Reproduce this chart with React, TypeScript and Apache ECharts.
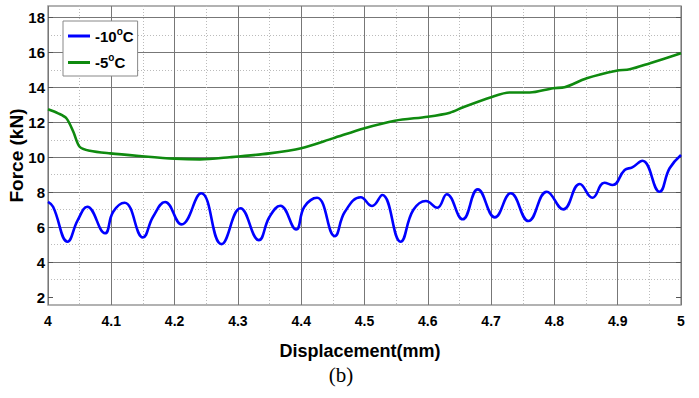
import React, { useEffect, useRef } from "react";
import * as echarts from "echarts";

const xMin = 4;
const xMax = 5;
const xStep = 0.1;
const yMin = 1.55;
const yMax = 18.65;
const yTickValues = [2, 4, 6, 8, 10, 12, 14, 16, 18];
const yMajorLines = [4, 6, 8, 10, 12, 14, 16, 18];
const yMinorLines = [3, 5, 7, 9, 11, 13, 15, 17];

const seriesNames = ["-10°C", "-5°C"];

const coldX = [
  4.0, 4.008, 4.031, 4.047, 4.062, 4.09, 4.103, 4.121, 4.15, 4.166, 4.185, 4.211,
  4.242, 4.274, 4.304, 4.333, 4.35, 4.367, 4.392, 4.405, 4.425, 4.453, 4.469,
  4.494, 4.512, 4.528, 4.557, 4.577, 4.597, 4.615, 4.63, 4.655, 4.679, 4.706,
  4.731, 4.759, 4.788, 4.814, 4.84, 4.86, 4.879, 4.892, 4.911, 4.923, 4.939,
  4.966, 4.982, 5.0,
];
const coldY = [
  7.45, 7.17, 5.17, 6.4, 7.17, 5.65, 6.88, 7.4, 5.42, 6.6, 7.44, 6.16,
  7.94, 5.03, 7.08, 5.26, 6.6, 7.23, 5.87, 7.17, 7.68, 5.49, 6.88,
  7.71, 7.21, 7.84, 5.17, 6.98, 7.5, 7.11, 7.88, 6.45, 8.16, 6.56,
  7.94, 6.35, 8.03, 7.02, 8.47, 7.68, 8.54, 8.41, 9.27, 9.42, 9.8,
  8.03, 9.37, 10.13,
];

const warmX = [
  4.0, 4.016, 4.029, 4.04, 4.05, 4.066, 4.098, 4.145, 4.2, 4.24, 4.287, 4.35,
  4.4, 4.45, 4.5, 4.548, 4.6, 4.635, 4.656, 4.7, 4.729, 4.761, 4.798, 4.816,
  4.851, 4.898, 4.919, 4.951, 5.0,
];
const warmY = [
  12.74, 12.51, 12.23, 11.46, 10.6, 10.37, 10.22, 10.07, 9.92, 9.88, 10.0, 10.22,
  10.51, 11.08, 11.66, 12.09, 12.32, 12.55, 12.86, 13.43, 13.7, 13.7, 13.95, 14.0,
  14.52, 14.95, 15.03, 15.38, 15.95,
];

const FONT = "'Liberation Sans', Arial, sans-serif";

function zip(xs: number[], ys: number[]) {
  return xs.map((x, i) => [x, ys[i]]);
}

export default function App() {
  const ref = useRef<HTMLDivElement>(null);
  useEffect(() => {
    if (!ref.current) return;
    const chart = echarts.init(ref.current, null, { renderer: "svg" });
    const hiddenAxisBase = {
      type: "value",
      min: yMin,
      max: yMax,
      axisLine: { show: false },
      axisLabel: { show: false },
    };
    chart.setOption({
      animation: false,
      backgroundColor: "#fff",
      grid: {
        left: 48,
        right: 18,
        top: 6,
        bottom: 93,
        show: true,
        borderColor: "#999",
        borderWidth: 1.5,
      },
      legend: {
        orient: "vertical",
        left: 63,
        top: 21,
        padding: [5, 4, 6, 5],
        itemGap: 9,
        itemWidth: 22,
        itemHeight: 3,
        itemTextGap: 3,
        icon: "rect",
        backgroundColor: "#fff",
        borderColor: "#888",
        borderWidth: 1,
        data: seriesNames,
        formatter: (name: string) => `{n|${name.replace("°C", "")}}{s|o}{n|C}`,
        textStyle: {
          rich: {
            n: { fontFamily: FONT, fontWeight: "bold", fontSize: 15, color: "#000", lineHeight: 20 },
            s: { fontFamily: FONT, fontWeight: "bold", fontSize: 10, color: "#000", lineHeight: 20, verticalAlign: "top" },
          },
        },
      },
      xAxis: {
        type: "value",
        min: xMin,
        max: xMax,
        interval: xStep,
        axisLine: { show: false },
        axisTick: { show: false },
        axisLabel: {
          color: "#000",
          fontFamily: FONT,
          fontWeight: "bold",
          fontSize: 14,
          margin: 9,
          formatter: (v: number) => String(Math.round(v * 10) / 10),
        },
        splitLine: { show: true, lineStyle: { color: "#777", width: 1 } },
        minorTick: { show: false, splitNumber: 2 },
        minorSplitLine: { show: true, lineStyle: { color: "#bbb", width: 1, type: [1, 2] } },
      },
      yAxis: [
        {
          type: "value",
          min: yMin,
          max: yMax,
          position: "left",
          axisLine: { show: false },
          axisTick: { show: true, inside: true, length: 5, customValues: yTickValues, lineStyle: { color: "#555" } },
          axisLabel: {
            customValues: yTickValues,
            color: "#000",
            fontFamily: FONT,
            fontWeight: "bold",
            fontSize: 15,
            margin: 3,
          },
          splitLine: { show: false },
        },
        {
          ...hiddenAxisBase,
          position: "right",
          axisTick: { show: true, inside: true, length: 5, customValues: yTickValues, lineStyle: { color: "#555" } },
          splitLine: { show: false },
        },
        {
          ...hiddenAxisBase,
          position: "left",
          axisTick: { show: false, customValues: yMajorLines },
          splitLine: { show: true, lineStyle: { color: "#777", width: 1 } },
        },
        {
          ...hiddenAxisBase,
          position: "left",
          axisTick: { show: false, customValues: yMinorLines },
          splitLine: { show: true, lineStyle: { color: "#bbb", width: 1, type: [1, 2] } },
        },
      ],
      series: [
        {
          name: seriesNames[0],
          type: "line",
          data: zip(coldX, coldY),
          showSymbol: false,
          smooth: 0.45,
          lineStyle: { color: "#0000ff", width: 2.6 },
          itemStyle: { color: "#0000ff" },
          z: 5,
        },
        {
          name: seriesNames[1],
          type: "line",
          data: zip(warmX, warmY),
          showSymbol: false,
          smooth: 0.3,
          lineStyle: { color: "#0f8a0f", width: 2.6 },
          itemStyle: { color: "#0f8a0f" },
          z: 5,
        },
      ],
      graphic: [
        {
          type: "text",
          x: 16.5,
          y: 155.5,
          rotation: Math.PI / 2,
          style: {
            text: "Force (kN)",
            font: `bold 19px ${FONT}`,
            fill: "#000",
            textAlign: "center",
            textVerticalAlign: "middle",
          },
        },
        {
          type: "text",
          x: 360,
          y: 351,
          style: {
            text: "Displacement(mm)",
            font: `bold 18px ${FONT}`,
            fill: "#000",
            textAlign: "center",
            textVerticalAlign: "middle",
          },
        },
        {
          type: "text",
          x: 341,
          y: 375,
          style: {
            text: "(b)",
            font: `21px 'Liberation Serif', 'Times New Roman', serif`,
            fill: "#000",
            textAlign: "center",
            textVerticalAlign: "middle",
          },
        },
      ],
    });
    return () => chart.dispose();
  }, []);
  return (
    <div
      ref={ref}
      style={{ position: "absolute", left: 0, top: 0, width: 699, height: 398 }}
    />
  );
}
